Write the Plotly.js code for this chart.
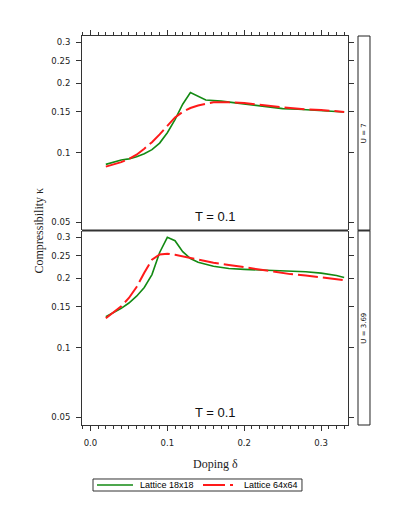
<!DOCTYPE html>
<html>
<head>
<meta charset="utf-8">
<script src="https://cdn.plot.ly/plotly-3.0.1.min.js"></script>
<style>html,body{margin:0;padding:0;background:#fff}#chart{width:397px;height:517px}</style>
</head>
<body>
<div id="chart"></div>
<script>
// U = 7 panel (top)
const topGreenX = [0.02,0.03,0.04,0.05,0.06,0.07,0.08,0.09,0.10,0.11,0.12,0.13,0.14,0.15,0.17,0.19,0.21,0.23,0.25,0.27,0.29,0.31,0.33];
const topGreenY = [0.089,0.091,0.093,0.094,0.096,0.099,0.103,0.110,0.122,0.139,0.162,0.182,0.176,0.169,0.167,0.164,0.160,0.157,0.155,0.154,0.153,0.152,0.150];
const topRedX = [0.02,0.03,0.04,0.05,0.06,0.07,0.08,0.09,0.10,0.11,0.12,0.13,0.14,0.15,0.16,0.18,0.20,0.22,0.24,0.26,0.28,0.30,0.33];
const topRedY = [0.087,0.089,0.091,0.094,0.098,0.104,0.111,0.120,0.131,0.142,0.150,0.156,0.160,0.163,0.165,0.165,0.164,0.161,0.158,0.156,0.154,0.153,0.150];
// U = 3.69 panel (bottom)
const botGreenX = [0.02,0.03,0.04,0.05,0.06,0.07,0.08,0.09,0.10,0.11,0.12,0.13,0.14,0.16,0.18,0.20,0.22,0.24,0.26,0.28,0.30,0.32,0.33];
const botGreenY = [0.136,0.142,0.148,0.156,0.167,0.182,0.207,0.258,0.300,0.290,0.260,0.243,0.234,0.225,0.220,0.218,0.217,0.216,0.215,0.213,0.210,0.205,0.201];
const botRedX = [0.02,0.03,0.04,0.05,0.06,0.07,0.08,0.09,0.10,0.11,0.12,0.14,0.16,0.18,0.20,0.22,0.24,0.26,0.28,0.30,0.32,0.33];
const botRedY = [0.134,0.142,0.151,0.164,0.183,0.211,0.240,0.253,0.255,0.252,0.248,0.240,0.233,0.228,0.223,0.218,0.212,0.208,0.205,0.201,0.198,0.196];

const seriesNames = ["Lattice 18x18", "Lattice 64x64"];
const panelLabels = ["U = 7", "U = 3.69"];
const tempLabel = "T = 0.1";
const yTickVals = [0.05,0.1,0.15,0.2,0.25,0.3];
const yTickText = ["0.05","0.1","0.15","0.2","0.25","0.3"];
const xTickVals = [0.0,0.1,0.2,0.3];
const xTickText = ["0.0","0.1","0.2","0.3"];

const green = "#138a13", red = "#ff1a1a";
const redDash = "20px,5px";

const traces = [
  {x: topGreenX, y: topGreenY, xaxis:"x2", yaxis:"y2", mode:"lines", name: seriesNames[0], line:{color:green, width:1.6}},
  {x: topRedX, y: topRedY, xaxis:"x2", yaxis:"y2", mode:"lines", name: seriesNames[1], line:{color:red, width:2, dash:redDash}},
  {x: botGreenX, y: botGreenY, xaxis:"x", yaxis:"y", mode:"lines", name: seriesNames[0], line:{color:green, width:1.6}},
  {x: botRedX, y: botRedY, xaxis:"x", yaxis:"y", mode:"lines", name: seriesNames[1], line:{color:red, width:2, dash:redDash}}
];

const tickFont = {family:"DejaVu Sans, sans-serif", size:8.5, color:"#222"};
const serif = "Liberation Serif, Times New Roman, serif";
const sans = "Liberation Sans, Arial, sans-serif";
const xr = [-0.011, 0.335];
const yr = [Math.log10(0.0463), Math.log10(0.3195)];

const yaxisCommon = {
  type:"log", range: yr, tickmode:"array", tickvals: yTickVals, ticktext: yTickText,
  ticks:"outside", ticklen:5, tickwidth:1, tickcolor:"#333", ticklabelstandoff:4,
  showline:true, linecolor:"#333", linewidth:1, mirror:"ticks",
  showgrid:false, zeroline:false, tickfont: tickFont
};

// legend drawn manually (paper coords)
const lgY = -0.1542;
const layout = {
  width:397, height:517,
  margin:{l:82, r:49, t:36, b:92},
  paper_bgcolor:"#fff", plot_bgcolor:"#fff",
  showlegend:false,
  xaxis:{anchor:"y", domain:[0,1], range: xr, tickmode:"array", tickvals: xTickVals, ticktext: xTickText,
         ticks:"outside", ticklen:5, tickcolor:"#333", showline:true, linecolor:"#333", linewidth:1, ticklabelstandoff:5,
         minor:{dtick:0.01, ticks:"outside", ticklen:3, tickcolor:"#333", showgrid:false},
         showgrid:false, zeroline:false, tickfont: tickFont},
  xaxis2:{anchor:"y2", domain:[0,1], range: xr, side:"top", matches:"x", tickmode:"array", tickvals: xTickVals,
          showticklabels:false, ticks:"outside", ticklen:5, tickcolor:"#333", showline:true, linecolor:"#333", linewidth:1,
          minor:{dtick:0.01, ticks:"outside", ticklen:3, tickcolor:"#333", showgrid:false},
          showgrid:false, zeroline:false},
  yaxis: Object.assign({}, yaxisCommon, {domain:[0,0.4987], anchor:"x"}),
  yaxis2: Object.assign({}, yaxisCommon, {domain:[0.5013,1], anchor:"x2"}),
  shapes:[
    {type:"line", xref:"paper", yref:"paper", x0:0, x1:1, y0:0.5, y1:0.5, line:{color:"#333", width:2}},
    {type:"rect", xref:"paper", yref:"paper", x0:1.0376, x1:1.0827, y0:0.5, y1:1, line:{color:"#222", width:1}},
    {type:"rect", xref:"paper", yref:"paper", x0:1.0376, x1:1.0827, y0:0, y1:0.5, line:{color:"#222", width:1}},
    {type:"line", xref:"paper", yref:"paper", x0:1.0376, x1:1.0827, y0:0.5, y1:0.5, line:{color:"#333", width:2}},
    // legend box and keys
    {type:"rect", xref:"paper", yref:"paper", x0:0.0414, x1:0.827, y0:-0.1697, y1:-0.1388, line:{color:"#333", width:1}},
    {type:"line", xref:"paper", yref:"paper", x0:0.0564, x1:0.1917, y0:lgY, y1:lgY, line:{color:green, width:1.6}},
    {type:"line", xref:"paper", yref:"paper", x0:0.4549, x1:0.5677, y0:lgY, y1:lgY, line:{color:red, width:2, dash:"22px,5px"}}
  ],
  annotations:[
    {text: tempLabel, xref:"paper", yref:"paper", x:0.5, y:0.5355, xanchor:"center", yanchor:"middle", showarrow:false,
     font:{family:sans, size:13, color:"#111"}},
    {text: tempLabel, xref:"paper", yref:"paper", x:0.5, y:0.0316, xanchor:"center", yanchor:"middle", showarrow:false,
     font:{family:sans, size:13, color:"#111"}},
    {text: panelLabels[0], xref:"paper", yref:"paper", x:1.06, y:0.75, xanchor:"center", yanchor:"middle", showarrow:false, textangle:-90,
     font:{family:"DejaVu Sans, sans-serif", size:7, color:"#111"}},
    {text: panelLabels[1], xref:"paper", yref:"paper", x:1.06, y:0.25, xanchor:"center", yanchor:"middle", showarrow:false, textangle:-90,
     font:{family:"DejaVu Sans, sans-serif", size:7, color:"#111"}},
    {text: "Compressibility κ", xref:"paper", yref:"paper", x:-0.165, y:0.5, xanchor:"center", yanchor:"middle", showarrow:false, textangle:-90,
     font:{family:serif, size:12, color:"#222"}},
    {text: "Doping δ", xref:"paper", yref:"paper", x:0.5, y:-0.1003, xanchor:"center", yanchor:"middle", showarrow:false,
     font:{family:serif, size:12, color:"#222"}},
    {text: seriesNames[0], xref:"paper", yref:"paper", x:0.2143, y:lgY, xanchor:"left", yanchor:"middle", showarrow:false, borderpad:0,
     font:{family:sans, size:9, color:"#000"}},
    {text: seriesNames[1], xref:"paper", yref:"paper", x:0.6053, y:lgY, xanchor:"left", yanchor:"middle", showarrow:false, borderpad:0,
     font:{family:sans, size:9, color:"#000"}}
  ]
};

Plotly.newPlot("chart", traces, layout, {displayModeBar:false, staticPlot:true});
</script>
</body>
</html>
